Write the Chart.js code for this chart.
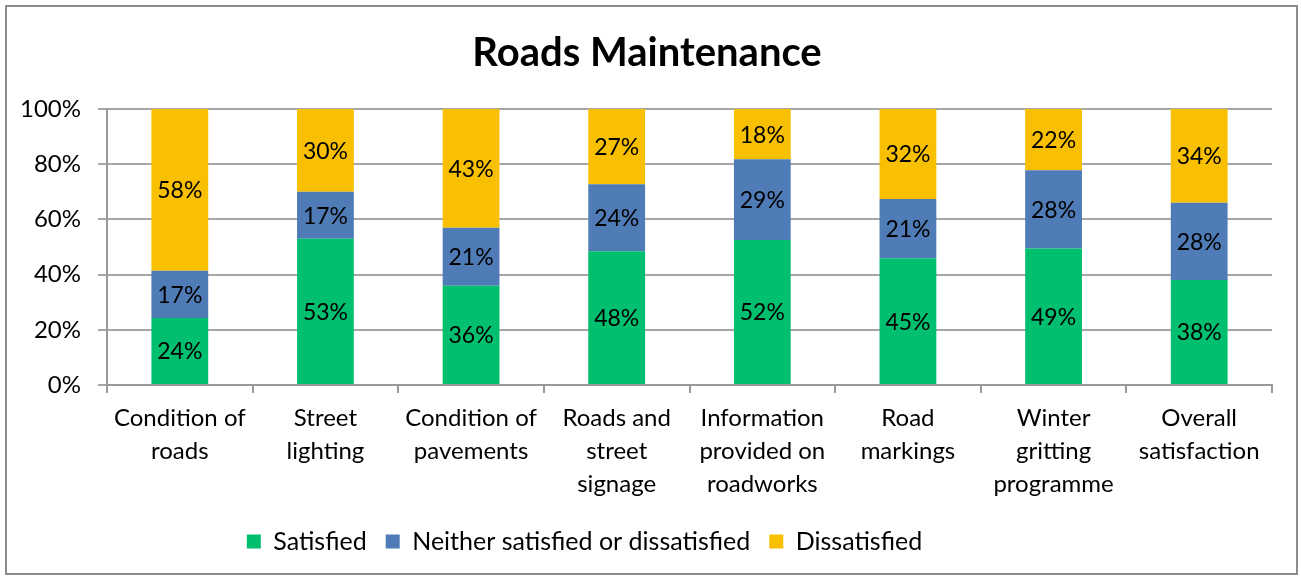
<!DOCTYPE html>
<html>
<head>
<meta charset="utf-8">
<script src="https://cdn.jsdelivr.net/npm/chart.js@4.4.1/dist/chart.umd.min.js"></script>
<style>
  html, body { margin: 0; padding: 0; background: #fff; }
  #marco {
    position: absolute; left: 5px; top: 5px;
    width: 1289px; height: 566px;
    border: 2px solid #8c8c8c; background: #fff;
  }
</style>
</head>
<body>
<div id="marco"><canvas id="grafico" width="1289" height="566"></canvas></div>
<script>
const categorias = [
  ["Condition of", "roads"],
  ["Street", "lighting"],
  ["Condition of", "pavements"],
  ["Roads and", "street", "signage"],
  ["Information", "provided on", "roadworks"],
  ["Road", "markings"],
  ["Winter", "gritting", "programme"],
  ["Overall", "satisfaction"]
];
const satisfechos = [24, 53, 36, 48, 52, 45, 49, 38];
const neutros = [17, 17, 21, 24, 29, 21, 28, 28];
const insatisfechos = [58, 30, 43, 27, 18, 32, 22, 34];
const ticksY = [0, 20, 40, 60, 80, 100];

const fuente = "Lato, 'Open Sans', sans-serif";

// barras al 100% como en Excel
const totales = satisfechos.map((v, i) => v + neutros[i] + insatisfechos[i]);
const aPorcentaje = (serie) => serie.map((v, i) => v / totales[i] * 100);

const etiquetas = {
  id: "etiquetas",
  afterLayout(chart) {
    // la leyenda de Excel queda algo a la izquierda
    chart.legend.left -= 125;
  },
  afterDatasetsDraw(chart) {
    const ctx = chart.ctx;
    ctx.save();
    ctx.font = "23px " + fuente;
    ctx.fillStyle = "#000";
    ctx.textAlign = "center";
    ctx.textBaseline = "middle";
    chart.data.datasets.forEach((ds, i) => {
      const meta = chart.getDatasetMeta(i);
      meta.data.forEach((bar, j) => {
        const y = (bar.y + bar.base) / 2;
        ctx.fillText(ds.valores[j] + "%", bar.x, y + 1);
      });
    });
    ctx.restore();
  }
};

const grafico = document.querySelector("#grafico");
new Chart(grafico, {
  type: "bar",
  data: {
    labels: categorias,
    datasets: [
      { label: "Satisfied", data: aPorcentaje(satisfechos), valores: satisfechos, backgroundColor: "#00bf6f" },
      { label: "Neither satisfied or dissatisfied", data: aPorcentaje(neutros), valores: neutros, backgroundColor: "#4f7bb6" },
      { label: "Dissatisfied", data: aPorcentaje(insatisfechos), valores: insatisfechos, backgroundColor: "#f8c000" }
    ]
  },
  options: {
    responsive: false,
    animation: false,
    layout: { padding: { left: 15, right: 24, top: 8, bottom: 9 } },
    datasets: { bar: { categoryPercentage: 1, barPercentage: 0.39 } },
    plugins: {
      title: {
        display: true,
        text: "Roads Maintenance",
        color: "#000",
        font: { family: fuente, size: 40, weight: "bold" },
        padding: { top: 14, bottom: 32 }
      },
      legend: {
        position: "bottom",
        labels: {
          color: "#000",
          font: { family: fuente, size: 25 },
          boxWidth: 14,
          boxHeight: 14,
          padding: 19
        }
      },
      tooltip: { enabled: false }
    },
    scales: {
      x: {
        stacked: true,
        grid: { drawOnChartArea: false, drawTicks: true, tickLength: 8, color: "#9a9a9a", lineWidth: 2, offset: true },
        border: { color: "#9a9a9a", width: 2 },
        ticks: { color: "#000", font: { family: fuente, size: 24, lineHeight: 1.375 }, maxRotation: 0, autoSkip: false, padding: 9 }
      },
      y: {
        stacked: true,
        min: 0,
        max: 100,
        afterBuildTicks: (eje) => { eje.ticks = ticksY.map(v => ({ value: v })); },
        afterFit: (eje) => { eje.width = 85; },
        grid: { color: "#a6a6a6", lineWidth: 2, tickLength: 9 },
        border: { color: "#9a9a9a", width: 2 },
        ticks: { color: "#000", font: { family: fuente, size: 24 }, padding: 17, callback: (v) => v + "%" }
      }
    }
  },
  plugins: [etiquetas]
});
</script>
</body>
</html>
